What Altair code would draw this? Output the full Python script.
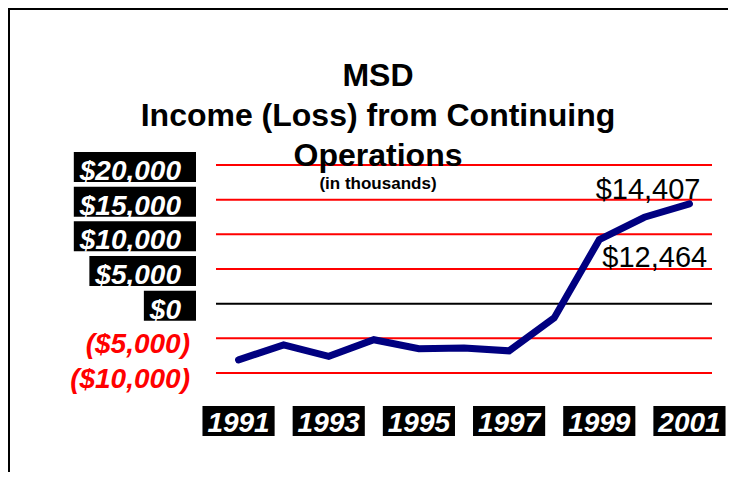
import altair as alt
import pandas as pd

# ---- data ----
years = list(range(1991, 2002))
income = [-8100, -5950, -7600, -5200, -6500, -6400, -6800, -2060, 9230, 12464, 14407]

tick_values = [20000, 15000, 10000, 5000, 0, -5000, -10000]
tick_labels = ["$20,000", "$15,000", "$10,000", "$5,000", "$0", "($5,000)", "($10,000)"]
year_labels = [1991, 1993, 1995, 1997, 1999, 2001]

callout_years = [2001, 2000]
callout_text = ["$14,407", "$12,464"]

title_lines = ["MSD", "Income (Loss) from Continuing", "Operations"]
subtitle_text = "(in thousands)"

FONT = "Liberation Sans"
LABEL_SIZE = 28

# ---- helpers ----
_CW = {"$": 0.556, ",": 0.278, "(": 0.333, ")": 0.333}


def text_width(s, size):
    return size * sum(_CW.get(c, 0.556) for c in s)


line_df = pd.DataFrame({"year": years, "value": income})
grid_df = pd.DataFrame({
    "value": tick_values,
    "kind": ["zero" if v == 0 else "grid" for v in tick_values],
})
ylab_df = pd.DataFrame({
    "value": tick_values,
    "label": tick_labels,
    "tw": [text_width(s, LABEL_SIZE) for s in tick_labels],
})
pos_df = ylab_df[ylab_df["value"] >= 0]
neg_df = ylab_df[ylab_df["value"] < 0]
xlab_df = pd.DataFrame({"year": year_labels, "label": [str(y) for y in year_labels]})
val_by_year = dict(zip(years, income))
call_df = pd.DataFrame({
    "year": callout_years,
    "value": [val_by_year[y] for y in callout_years],
    "text": callout_text,
})
one = pd.DataFrame({"k": [0]})

xscale = alt.Scale(domain=[1990.5, 2001.5], nice=False, zero=False)
yscale = alt.Scale(domain=[-10000, 20000], nice=False, zero=False)
W, H = 496, 208
PAD = {"left": 208, "top": 157, "right": 16, "bottom": 99}

grid = alt.Chart(grid_df).mark_rule(strokeWidth=2).encode(
    y=alt.Y("value:Q", scale=yscale, axis=None),
    x=alt.value(0),
    x2=alt.value(W),
    color=alt.Color("kind:N", scale=alt.Scale(domain=["grid", "zero"], range=["#ff0000", "#000000"]), legend=None),
)

line = alt.Chart(line_df).mark_line(color="#000080", strokeWidth=7, strokeCap="round").encode(
    x=alt.X("year:Q", scale=xscale, axis=None),
    y=alt.Y("value:Q", scale=yscale, axis=None),
)

ybox = alt.Chart(pos_df).mark_rect(color="black").transform_calculate(
    top="datum.value + 1875", bot="datum.value - 2450", left="-41 - datum.tw"
).encode(
    x=alt.X("left:Q", scale=None),
    x2=alt.value(-20),
    y=alt.Y("top:Q", scale=yscale, axis=None),
    y2="bot:Q",
)

label_style = dict(font=FONT, fontSize=LABEL_SIZE, fontWeight="bold", fontStyle="italic",
                   baseline="alphabetic")

ypos = alt.Chart(pos_df).mark_text(color="white", align="right", dy=15, **label_style).encode(
    x=alt.value(-35),
    y=alt.Y("value:Q", scale=yscale, axis=None),
    text="label:N",
)
yneg = alt.Chart(neg_df).mark_text(color="#ff0000", align="right", dy=15, **label_style).encode(
    x=alt.value(-26),
    y=alt.Y("value:Q", scale=yscale, axis=None),
    text="label:N",
)

xbox = alt.Chart(xlab_df).mark_rect(color="black").transform_calculate(
    x0="datum.year - 0.8", x1="datum.year + 0.8"
).encode(
    x=alt.X("x0:Q", scale=xscale, axis=None),
    x2="x1:Q",
    y=alt.value(241),
    y2=alt.value(271),
)
xtext = alt.Chart(xlab_df).mark_text(color="white", align="center", **label_style).encode(
    x=alt.X("year:Q", scale=xscale, axis=None),
    y=alt.value(267),
    text="label:N",
)

call1 = alt.Chart(call_df.iloc[[0]]).mark_text(
    font=FONT, fontSize=29, color="black", align="right", baseline="alphabetic", dx=11, dy=-5
).encode(
    x=alt.X("year:Q", scale=xscale, axis=None),
    y=alt.Y("value:Q", scale=yscale, axis=None),
    text="text:N",
)
call2 = alt.Chart(call_df.iloc[[1]]).mark_text(
    font=FONT, fontSize=29, color="black", align="left", baseline="alphabetic", dx=-42, dy=50
).encode(
    x=alt.X("year:Q", scale=xscale, axis=None),
    y=alt.Y("value:Q", scale=yscale, axis=None),
    text="text:N",
)

# outer frame (top and left edges) drawn as thin rects
frame_top = alt.Chart(one).mark_rect(color="black").encode(
    x=alt.value(-PAD["left"]), x2=alt.value(W + PAD["right"]),
    y=alt.value(-PAD["top"]), y2=alt.value(-PAD["top"] + 2),
)
frame_left = alt.Chart(one).mark_rect(color="black").encode(
    x=alt.value(-PAD["left"]), x2=alt.value(-PAD["left"] + 2),
    y=alt.value(-PAD["top"]), y2=alt.value(H + PAD["bottom"]),
)

title = alt.Title(
    text=title_lines,
    subtitle=subtitle_text,
    font=FONT, fontSize=32, fontWeight="bold", color="black", lineHeight=40,
    subtitleFont=FONT, subtitleFontSize=17, subtitleFontWeight="bold", subtitleColor="black",
    anchor="middle", dx=-86, dy=189,
)

chart = alt.layer(
    frame_top, frame_left, grid, line, ybox, ypos, yneg, xbox, xtext, call1, call2
).properties(
    width=W, height=H, title=title,
    autosize=alt.AutoSizeParams(type="none"),
    padding=PAD,
).configure_view(stroke=None)

chart.save("out.html", embed_options={"renderer": "svg", "actions": False})
